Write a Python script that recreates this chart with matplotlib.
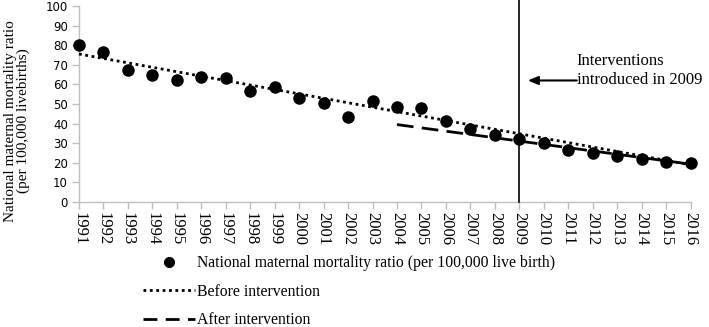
import matplotlib
matplotlib.use("Agg")
import matplotlib.pyplot as plt
from matplotlib.lines import Line2D

years = list(range(1991, 2017))
mmr = [80, 76.5, 67.5, 65, 62, 64, 63.5, 56.5, 58.5, 53, 50.5, 43.5, 51.5,
       48.5, 48, 41.5, 37, 34, 32, 30, 26.5, 25, 23.5, 22, 20.5, 20]
before_years = [1991, 2016]
before_vals = [75.5, 19.0]
after_years = [2004, 2016]
after_vals = [39.5, 19.3]
intervention_year = 2009
y_ticks = list(range(0, 101, 10))

serif = "Liberation Serif"
gray = "#bfbfbf"

fig = plt.figure(figsize=(7.09, 3.27), dpi=100)
ax = fig.add_axes([79/709, 1-202/327, (690.5-79)/709, 196/327])

ax.plot(years, mmr, 'o', color='black', ms=8, clip_on=False, zorder=5)
ax.plot(before_years, before_vals, color='black', lw=2, linestyle=(0, (1, 1.3)),
        clip_on=False, zorder=4)
ax.plot(after_years, after_vals, color='black', lw=2, linestyle=(0, (6, 3)),
        clip_on=False, zorder=4)
ax.axvline(intervention_year, ymin=0, ymax=1.03, color='black', lw=1.2,
           clip_on=False, zorder=3)

ax.annotate("", xy=(2009.35, 62.0), xytext=(2011.35, 62.0),
            arrowprops=dict(arrowstyle='-|>,head_length=0.6,head_width=0.25',
                            color='black', lw=1.5, shrinkA=0, shrinkB=0))
ax.text(2011.35, 72.0, "Interventions", fontsize=12,
        family=serif, ha='left', va='center')
ax.text(2011.35, 62.0, "introduced in 2009", fontsize=12,
        family=serif, ha='left', va='center')

ax.set_xlim(1991, 2016)
ax.set_ylim(0, 100)
ax.set_xticks(years)
ax.set_xticklabels([str(y) for y in years], rotation=-90, family=serif,
                   fontsize=12)
ax.set_yticks(y_ticks)
ax.set_yticklabels([str(t) for t in y_ticks], family="DejaVu Sans",
                   fontsize=8.5)
for s in ['top', 'right']:
    ax.spines[s].set_visible(False)
for s in ['left', 'bottom']:
    ax.spines[s].set_color(gray)
    ax.spines[s].set_linewidth(1)
ax.tick_params(axis='both', colors=gray, length=5, width=1, labelcolor='black')
ax.tick_params(axis='x', pad=2)
ax.tick_params(axis='y', pad=3)

fig.text(0.024, 0.63, "National maternal mortality ratio\n(per 100,000 livebirths)",
         rotation=90, ha='center', va='center', family=serif, fontsize=11,
         linespacing=1.0)

handles = [
    Line2D([], [], marker='o', color='black', linestyle='none', ms=7),
    Line2D([], [], color='black', lw=2, linestyle=(0, (1, 1.3))),
    Line2D([], [], color='black', lw=2, linestyle=(0, (5, 3))),
]
labels = ["National maternal mortality ratio (per 100,000 live birth)",
          "Before intervention", "After intervention"]
leg = fig.legend(handles, labels, loc='upper left',
                 bbox_to_anchor=(143/709, 1-255/327), frameon=False,
                 prop={'family': serif, 'size': 11.3}, handlelength=3.3,
                 handletextpad=0.15, labelspacing=0.8, borderpad=0,
                 borderaxespad=0)

fig.savefig("out.png", dpi=100)
